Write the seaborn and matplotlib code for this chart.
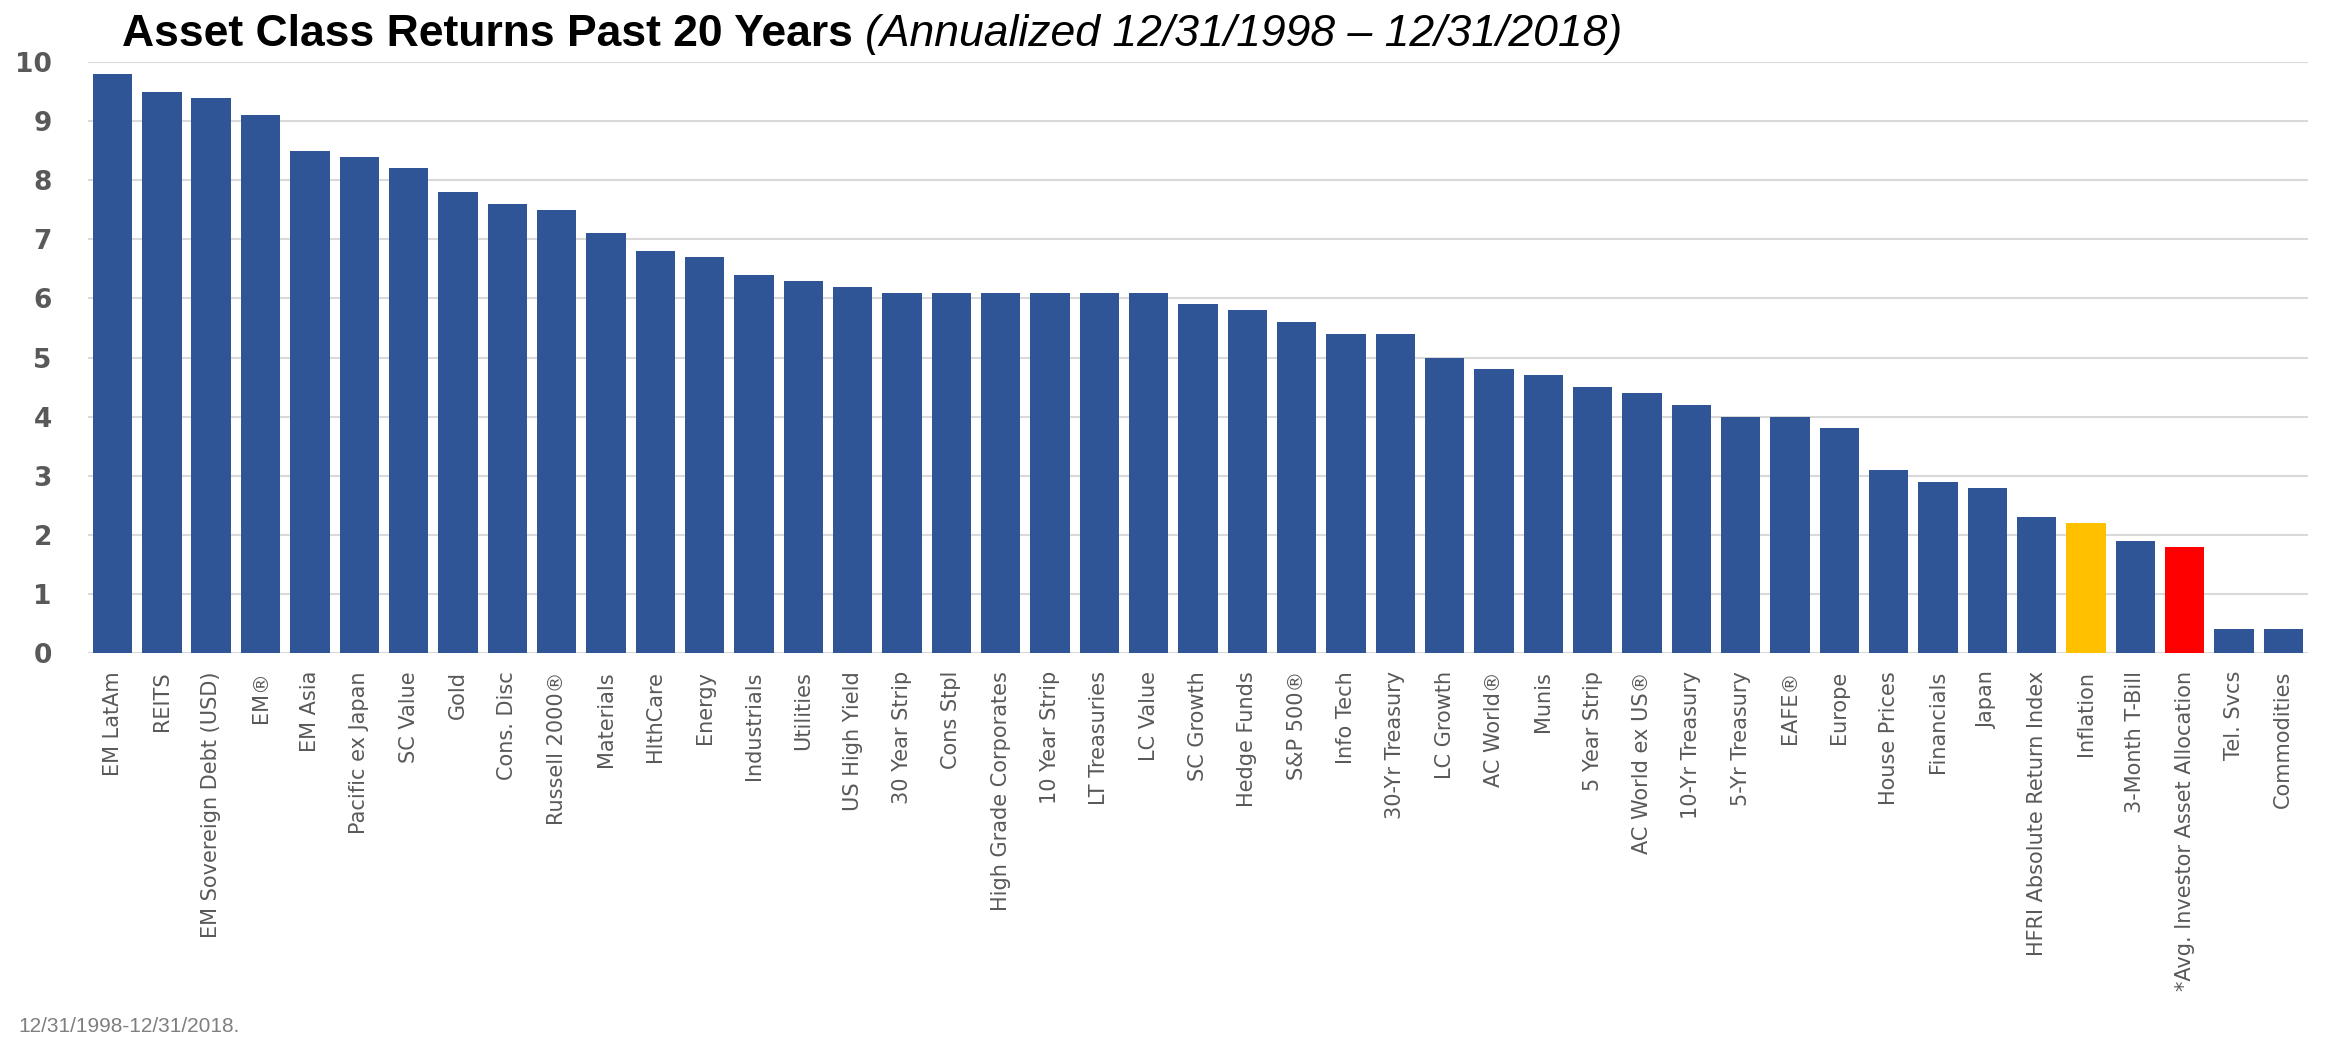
import matplotlib
matplotlib.use('Agg')
import matplotlib.pyplot as plt
import seaborn as sns

# Data (annualized returns, %)
asset_classes = [
    "EM LatAm", "REITS", "EM Sovereign Debt (USD)", "EM®", "EM Asia",
    "Pacific ex Japan", "SC Value", "Gold", "Cons. Disc", "Russell 2000®",
    "Materials", "HlthCare", "Energy", "Industrials", "Utilities",
    "US High Yield", "30 Year Strip", "Cons Stpl", "High Grade Corporates",
    "10 Year Strip", "LT Treasuries", "LC Value", "SC Growth", "Hedge Funds",
    "S&P 500®", "Info Tech", "30-Yr Treasury", "LC Growth", "AC World®",
    "Munis", "5 Year Strip", "AC World ex US®", "10-Yr Treasury",
    "5-Yr Treasury", "EAFE®", "Europe", "House Prices", "Financials", "Japan",
    "HFRI Absolute Return Index", "Inflation", "3-Month T-Bill",
    "*Avg. Investor Asset Allocation", "Tel. Svcs", "Commodities",
]
returns = [
    9.8, 9.5, 9.4, 9.1, 8.5,
    8.4, 8.2, 7.8, 7.6, 7.5,
    7.1, 6.8, 6.7, 6.4, 6.3,
    6.2, 6.1, 6.1, 6.1,
    6.1, 6.1, 6.1, 5.9, 5.8,
    5.6, 5.4, 5.4, 5.0, 4.8,
    4.7, 4.5, 4.4, 4.2,
    4.0, 4.0, 3.8, 3.1, 2.9, 2.8,
    2.3, 2.2, 1.9,
    1.8, 0.4, 0.4,
]
highlights = {"Inflation": "#FFC000", "*Avg. Investor Asset Allocation": "#FF0000"}
base_color = "#2F5597"
y_ticks = [0, 1, 2, 3, 4, 5, 6, 7, 8, 9, 10]

title_main = "Asset Class Returns Past 20 Years"
title_sub = "(Annualized 12/31/1998 \u2013 12/31/2018)"
footnote = "12/31/1998-12/31/2018."

palette = {name: highlights.get(name, base_color) for name in asset_classes}

sns.set_style("white")
plt.rcParams['font.family'] = ['DejaVu Sans']

fig, ax = plt.subplots(figsize=(23.25, 10.41), dpi=100)
fig.subplots_adjust(left=0.0378, right=0.9927, bottom=0.3727, top=0.9404)

sns.barplot(x=asset_classes, y=returns, hue=asset_classes, palette=palette,
            legend=False, width=0.8, linewidth=0, saturation=1, ax=ax)

ax.set_ylim(0, 10)
ax.set_yticks(y_ticks)
ax.set_axisbelow(True)
ax.grid(axis='y', color='#D9D9D9', linewidth=1.5)
ax.grid(axis='x', visible=False)
sns.despine(ax=ax, left=True, bottom=True)

ax.tick_params(axis='y', length=0, pad=26, labelsize=19, labelcolor='#595959')
for lbl in ax.get_yticklabels():
    lbl.set_fontweight('bold')
ax.tick_params(axis='x', length=0, pad=13, labelsize=15, labelcolor='#595959',
               rotation=90)
ax.set_xlabel('')
ax.set_ylabel('')

# Title: bold part + italic part placed right after it
title_font = ['Liberation Sans']
t1 = fig.text(122 / 2325, 1 - 46 / 1041, title_main, fontsize=32,
              fontweight='bold', family=title_font, color='black', va='baseline')
fig.canvas.draw()
bb = t1.get_window_extent()
fig.text((bb.x1 + 12) / 2325, 1 - 46 / 1041, title_sub, fontsize=32,
         fontstyle='italic', family=title_font, color='black', va='baseline')

fig.text(18 / 2325, 1 - 1032 / 1041, footnote, fontsize=15,
         family=['Liberation Sans'], color='#7F7F7F', va='baseline')

fig.savefig('out.png', dpi=100)
